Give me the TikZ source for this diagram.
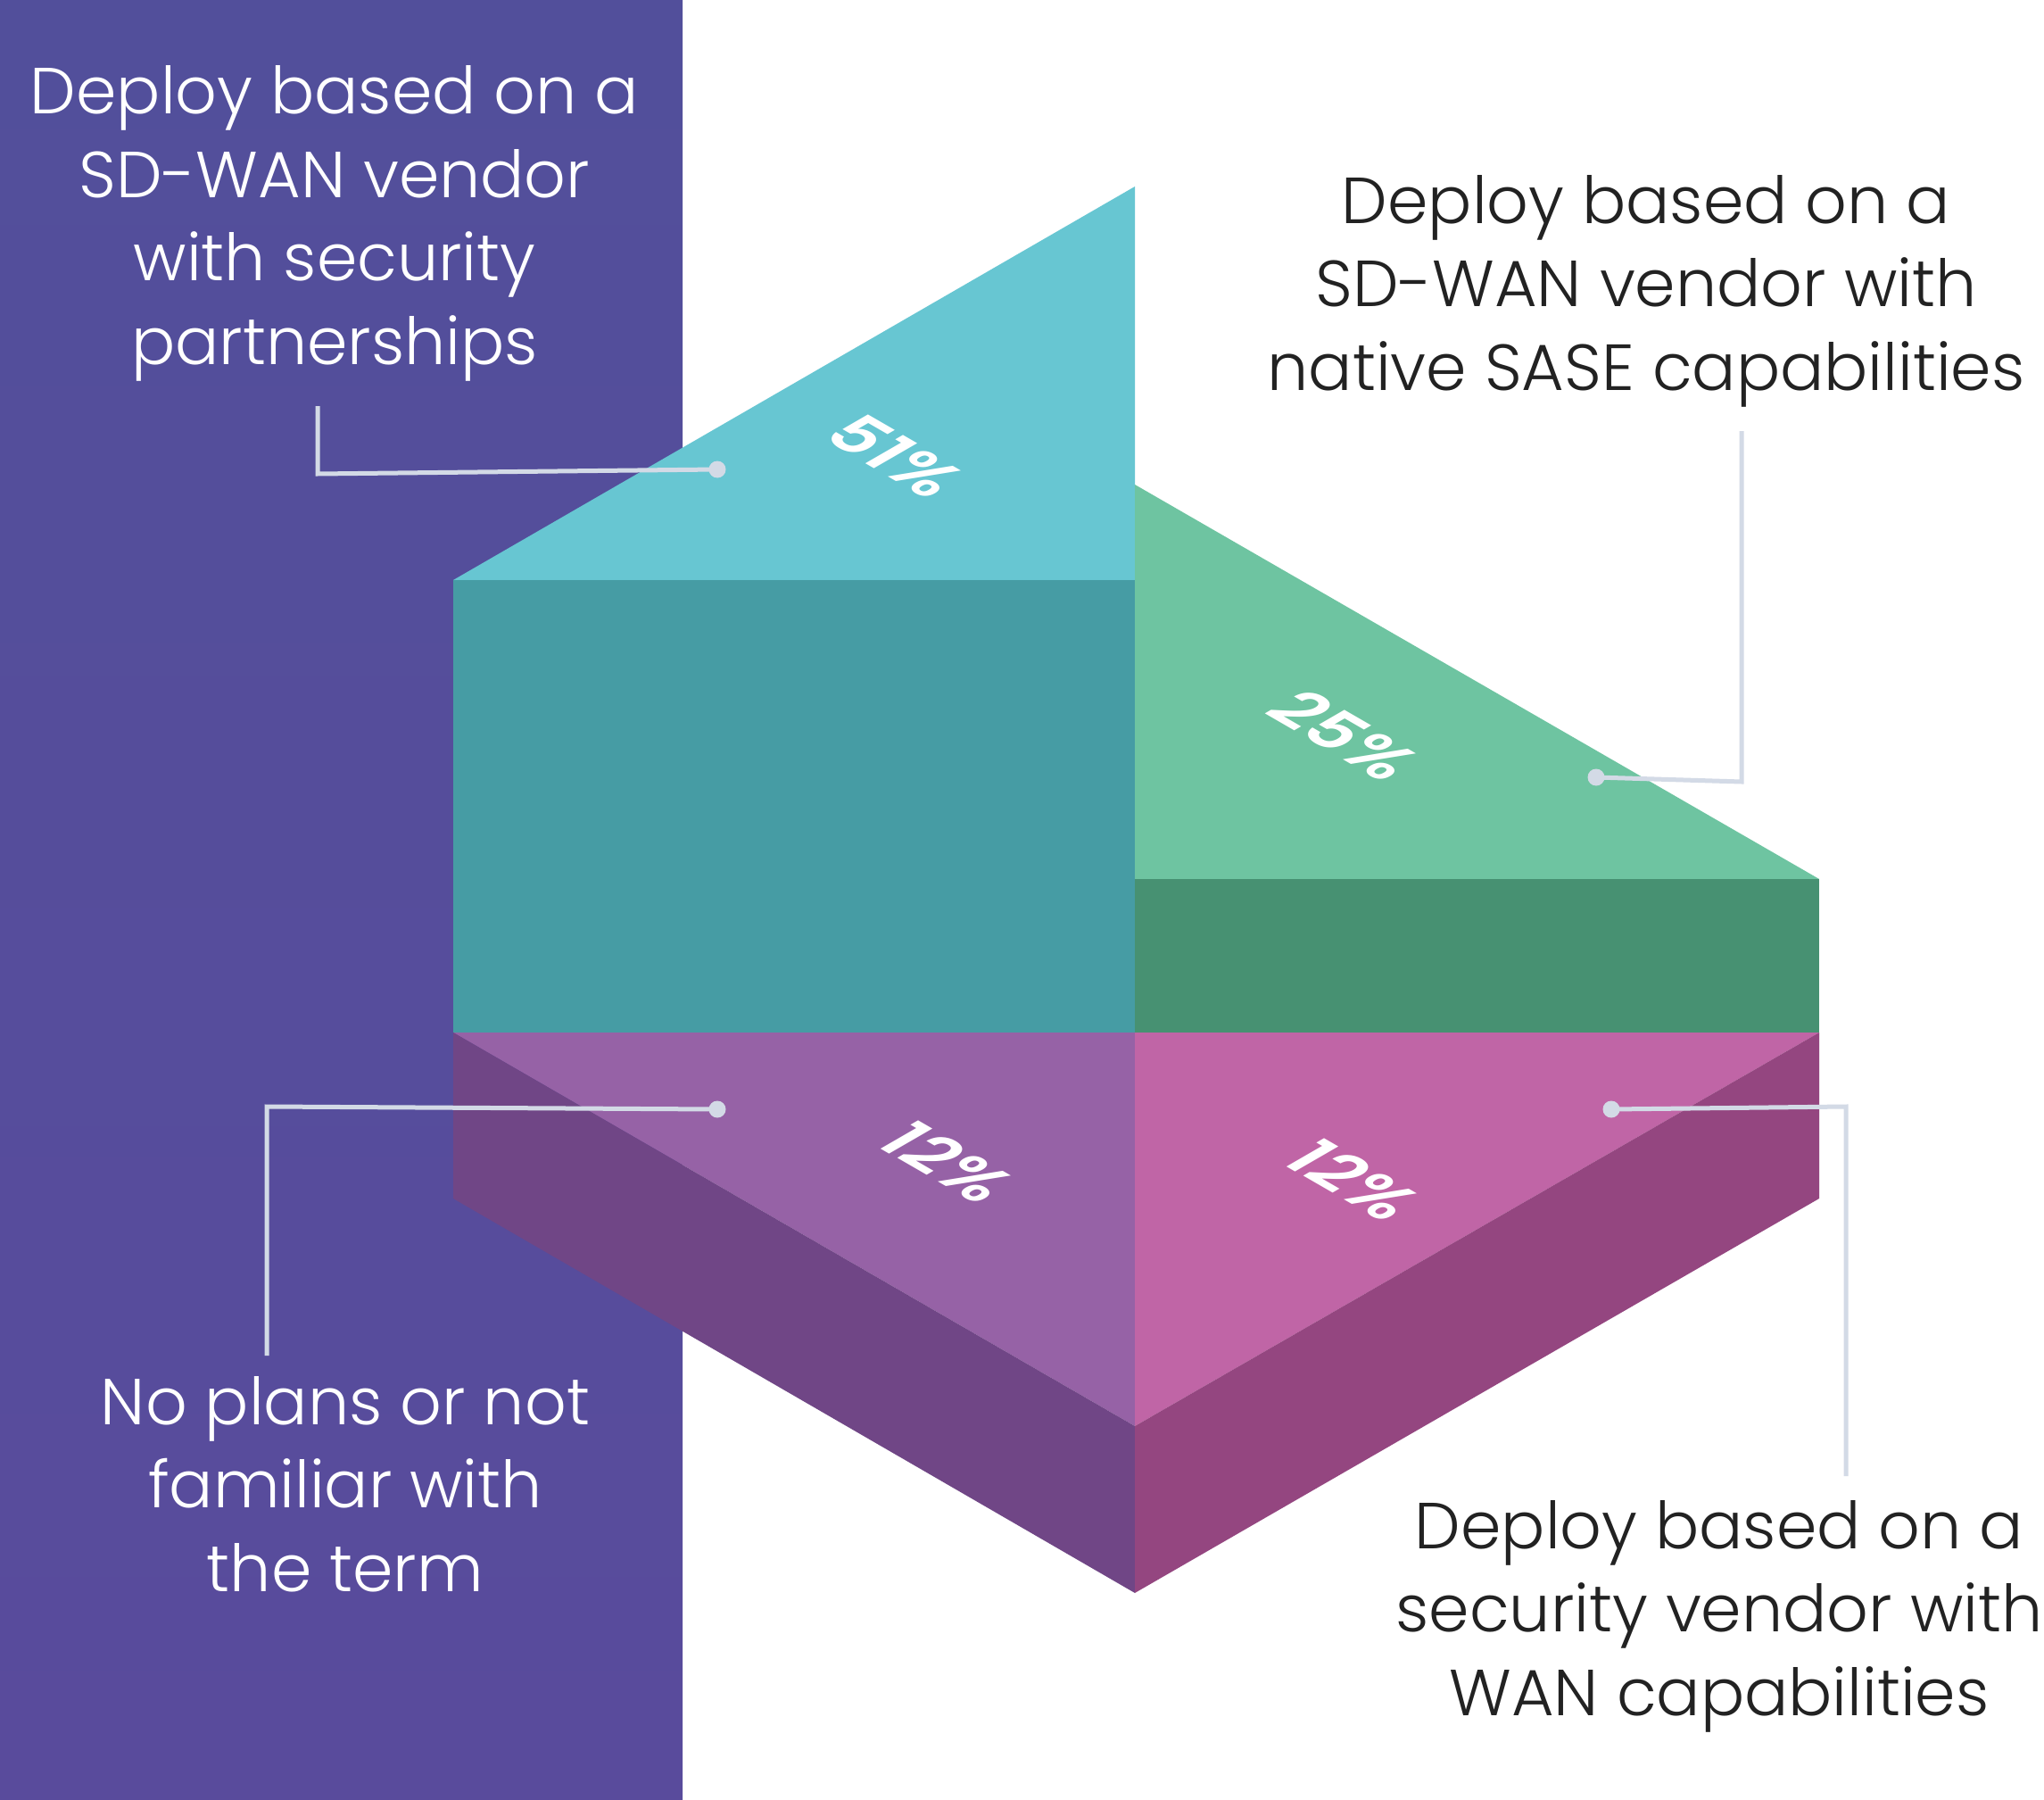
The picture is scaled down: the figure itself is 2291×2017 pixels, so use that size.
\documentclass[tikz,border=0pt]{standalone}
\usepackage{fontspec}
\IfFontExistsTF{Poppins Light}{\setmainfont{Poppins Light}}{\setmainfont{Poppins}}
\IfFontExistsTF{Poppins SemiBold}{\newfontfamily\pctfont{Poppins SemiBold}}{\newfontfamily\pctfont{Poppins}}
\definecolor{panelTop}{HTML}{524F9B}
\definecolor{panelBot}{HTML}{594B9C}
\definecolor{tealTop}{HTML}{67C6D2}
\definecolor{tealFront}{HTML}{469CA4}
\definecolor{greenTop}{HTML}{6EC4A1}
\definecolor{greenFront}{HTML}{479172}
\definecolor{violetTop}{HTML}{9662A6}
\definecolor{violetSide}{HTML}{704686}
\definecolor{pinkTop}{HTML}{C065A6}
\definecolor{pinkSide}{HTML}{944680}
\definecolor{leader}{HTML}{D3DAE6}
\definecolor{darktext}{HTML}{222222}
\tikzset{
  lbl/.style={align=center, inner sep=0pt, anchor=base, font=\fontsize{73}{93.5}\selectfont},
  lblw/.style={lbl, text=white},
  lbld/.style={lbl, text=darktext},
  pct/.style={inner sep=0pt, text=white, transform shape, cm={0.866,-0.5,0.866,0.5,(0,0)}, font=\pctfont\fontsize{77}{77}\selectfont},
  leaderline/.style={draw=leader, line width=5pt},
  leaderdot/.style={fill=leader}
}
\begin{document}
\begin{tikzpicture}[x=1pt,y=-1pt]
\useasboundingbox (0,0) rectangle (2291,2017);
\fill[white] (0,0) rectangle (2291,2017);
\shade[top color=panelTop, bottom color=panelBot] (0,0) rectangle (765,2017);
% corners
\coordinate (TL) at (508,650);
\coordinate (TA) at (1272,209);
\coordinate (TC) at (1272,650);
\coordinate (M)  at (1272,1157);
\coordinate (L)  at (508,1157);
\coordinate (GA) at (1272,543);
\coordinate (GR) at (2039,985);
\coordinate (GC) at (1272,985);
\coordinate (R)  at (2039,1157);
\coordinate (B)  at (1272,1598);
\coordinate (LB) at (508,1343);
\coordinate (RB) at (2039,1343);
\coordinate (BB) at (1272,1785);
% teal block
\fill[tealTop] (TL) -- (TA) -- (TC) -- cycle;
\fill[tealFront] (TL) -- (TC) -- (M) -- (L) -- cycle;
% green block
\fill[greenTop] (GA) -- (GR) -- (GC) -- cycle;
\fill[greenFront] (GC) -- (GR) -- (R) -- (M) -- cycle;
% violet block
\fill[violetTop] (L) -- (M) -- (B) -- cycle;
\fill[violetSide] (L) -- (B) -- (BB) -- (LB) -- cycle;
% pink block
\fill[pinkTop] (M) -- (R) -- (B) -- cycle;
\fill[pinkSide] (R) -- (RB) -- (BB) -- (B) -- cycle;
% percentages
\begin{scope}[shift={(1004,511)}]\node[pct] (p51) at (0,0) {51\%};\end{scope}
\begin{scope}[shift={(1507,824)}]\node[pct] (p25) at (0,0) {25\%};\end{scope}
\begin{scope}[shift={(1062,1302)}]\node[pct] (p12a) at (0,0) {12\%};\end{scope}
\begin{scope}[shift={(1517,1322)}]\node[pct] (p12b) at (0,0) {12\%};\end{scope}
% labels (anchor = baseline of last line)
\node[lblw] (tA) at (375,408) {Deploy based on a\\SD-WAN vendor\\with security\\partnerships};
\node[lbld] (tB) at (1845,437) {Deploy based on a\\SD-WAN vendor with\\native SASE capabilities};
\node[lblw] (tC) at (387,1783) {No plans or not\\familiar with\\the term};
\node[lbld] (tD) at (1927,1922) {Deploy based on a\\security vendor with\\WAN capabilities};
% leaders
\coordinate (d1) at (804,526);  \coordinate (c1) at (356,531);  \coordinate (e1) at (356,455);
\coordinate (d2) at (1789,871); \coordinate (c2) at (1952,876); \coordinate (e2) at (1952,483);
\coordinate (d3) at (804,1243); \coordinate (c3) at (299,1240); \coordinate (e3) at (299,1519);
\coordinate (d4) at (1806,1243);\coordinate (c4) at (2069,1240);\coordinate (e4) at (2069,1654);
\draw[leaderline] (d1) -- (c1) -- (e1);
\draw[leaderline] (d2) -- (c2) -- (e2);
\draw[leaderline] (d3) -- (c3) -- (e3);
\draw[leaderline] (d4) -- (c4) -- (e4);
\foreach \d in {d1,d2,d3,d4} \fill[leaderdot] (\d) circle (9.5);
\end{tikzpicture}
\end{document}
